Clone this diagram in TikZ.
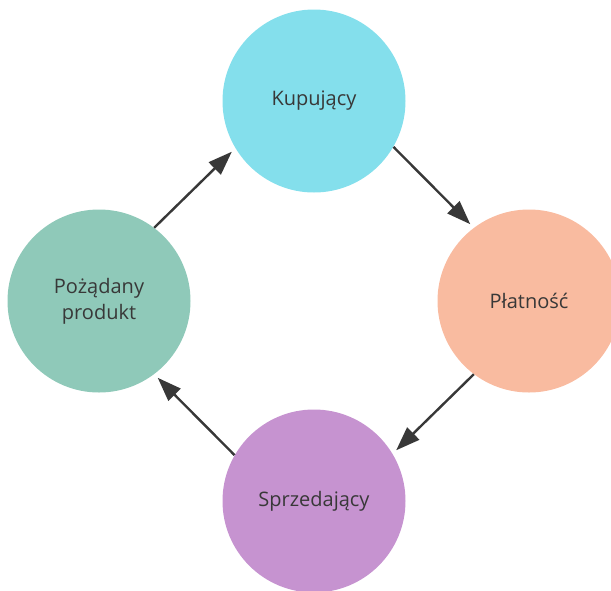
\documentclass[tikz,border=0pt]{standalone}
\usepackage{fontspec}
\setmainfont{Open Sans}
\usetikzlibrary{arrows.meta}

\definecolor{buyercol}{HTML}{84DFEC}
\definecolor{paycol}{HTML}{F9BBA0}
\definecolor{sellercol}{HTML}{C693D0}
\definecolor{productcol}{HTML}{8FC9B9}
\definecolor{inkcol}{HTML}{383838}

\begin{document}
\begin{tikzpicture}[
    x=1pt, y=-1pt,
    party/.style={circle, minimum size=183pt, inner sep=0pt, text=inkcol, align=center,
        font=\fontsize{20}{26}\selectfont},
    flow/.style={draw=inkcol, line width=2.4pt, shorten >=5pt,
        -{Triangle[length=24pt, width=17pt]}},
]
    \useasboundingbox (0,0) rectangle (611,590);

    \node[party, fill=buyercol] (buyer) at (314,101) {Kupujący};
    \node[party, fill=paycol] (payment) at (529,301) {Płatność};
    \node[party, fill=sellercol] (seller) at (314,501) {Sprzedający};
    \node[party, fill=productcol] (product) at (99,301) {Pożądany\\produkt};

    % Cycle of arrows
    \draw[flow] (buyer.-30) -- (payment.127);
    \draw[flow] (payment.-127) -- (seller.31);
    \draw[flow] (seller.150) -- (product.-53);
    \draw[flow] (product.53) -- (buyer.-149);
\end{tikzpicture}
\end{document}
